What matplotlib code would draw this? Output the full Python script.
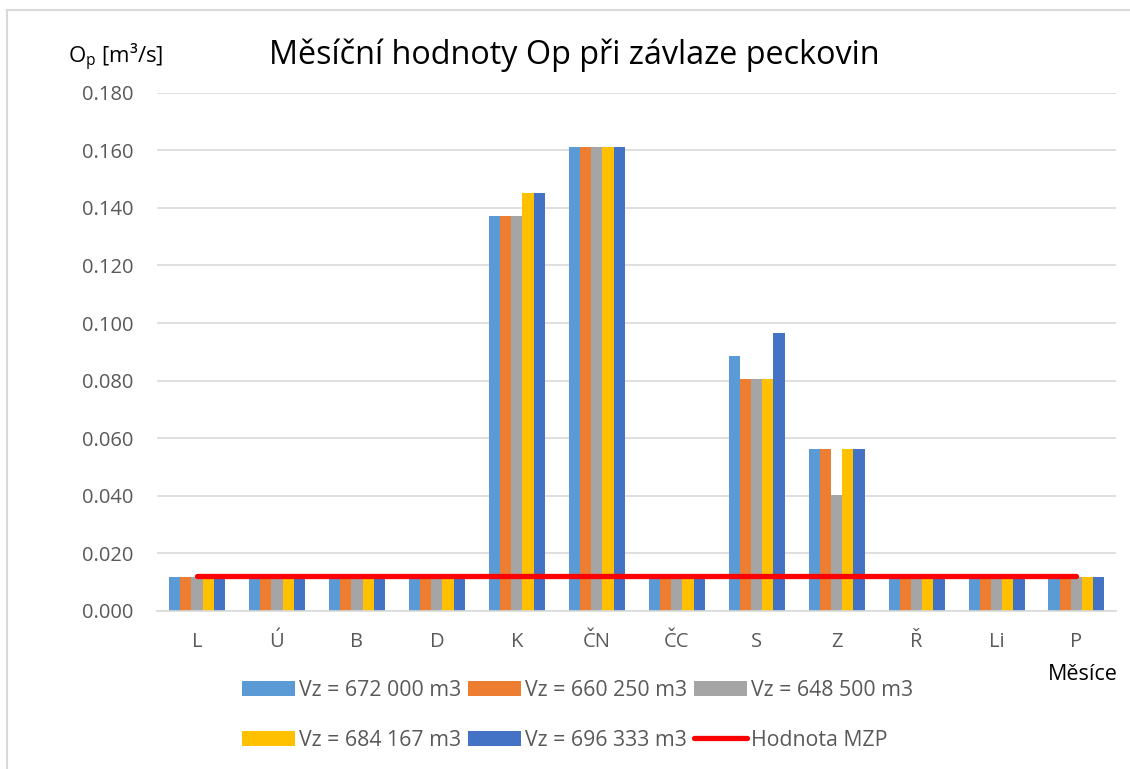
import matplotlib.pyplot as plt
import numpy as np
from matplotlib.lines import Line2D

plt.rcParams['font.family'] = ['Open Sans', 'DejaVu Sans']
plt.rcParams['mathtext.default'] = 'regular'

months = ['L', 'Ú', 'B', 'D', 'K', 'ČN', 'ČC', 'S', 'Z', 'Ř', 'Li', 'P']
series_names = ['Vz = 672 000 m3', 'Vz = 660 250 m3', 'Vz = 648 500 m3',
                'Vz = 684 167 m3', 'Vz = 696 333 m3']
vz_672000 = [0.0118, 0.0118, 0.0118, 0.0118, 0.137, 0.161, 0.0118, 0.0886, 0.0563, 0.0118, 0.0118, 0.0118]
vz_660250 = [0.0118, 0.0118, 0.0118, 0.0118, 0.137, 0.161, 0.0118, 0.0805, 0.0563, 0.0118, 0.0118, 0.0118]
vz_648500 = [0.0118, 0.0118, 0.0118, 0.0118, 0.137, 0.161, 0.0118, 0.0805, 0.0402, 0.0118, 0.0118, 0.0118]
vz_684167 = [0.0118, 0.0118, 0.0118, 0.0118, 0.145, 0.161, 0.0118, 0.0805, 0.0563, 0.0118, 0.0118, 0.0118]
vz_696333 = [0.0118, 0.0118, 0.0118, 0.0118, 0.145, 0.161, 0.0118, 0.0967, 0.0563, 0.0118, 0.0118, 0.0118]
mzp = [0.0121] * 12

colors = ['#5B9BD5', '#ED7D31', '#A5A5A5', '#FFC000', '#4472C4']
grid_col = '#D9D9D9'
text_col = '#595959'

fig = plt.figure(figsize=(11.3, 7.69), dpi=100)
ax = fig.add_axes([0.139, 0.2055, 0.849, 0.674])

x = np.arange(len(months))
w = 0.14
handles = []
for i, (vals, name) in enumerate(zip([vz_672000, vz_660250, vz_648500, vz_684167, vz_696333], series_names)):
    b = ax.bar(x + (i - 2) * w, vals, width=w, color=colors[i], label=name, zorder=2)
    handles.append(b)
ln, = ax.plot(x, mzp, color='#FF0000', lw=3.8, solid_capstyle='round', zorder=3, label='Hodnota MZP')
handles.append(ln)

ax.set_xlim(-0.5, 11.5)
ax.set_ylim(0, 0.18)
ax.set_yticks(np.arange(0, 0.1801, 0.02))
ax.yaxis.set_major_formatter(plt.FormatStrFormatter('%.3f'))
ax.set_xticks(x)
ax.set_xticklabels(months)
ax.grid(axis='y', color=grid_col, lw=1.2, zorder=0)
ax.set_axisbelow(True)
for s in ['top', 'right', 'left']:
    ax.spines[s].set_visible(False)
ax.spines['bottom'].set_color(grid_col)
ax.spines['bottom'].set_linewidth(1.2)
ax.tick_params(axis='both', length=0, labelsize=14.5, colors=text_col)
ax.tick_params(axis='y', pad=17)
ax.tick_params(axis='x', pad=15)

fig.text(0.508, 0.928, 'Měsíční hodnoty Op při závlaze peckovin', ha='center', va='center',
         fontsize=23.3, color='black')
fig.text(0.06, 0.925, 'O$_{p}$ [m³/s]', ha='left', va='center', fontsize=16, color='black')
fig.text(0.989, 0.123, 'Měsíce', ha='right', va='center', fontsize=15.5, color='black')

order = [0, 3, 1, 4, 2, 5]
leg = fig.legend([handles[k] for k in order], [handles[k].get_label() for k in order],
                 ncol=3, loc='center', bbox_to_anchor=(0.511, 0.07), frameon=False,
                 fontsize=15.3, handlelength=2.5, handleheight=0.7, handletextpad=0.2,
                 columnspacing=0.3, labelspacing=1.35)
for t in leg.get_texts():
    t.set_color(text_col)

# chart border
fig.add_artist(Line2D([7 / 1130, 7 / 1130], [0, 1 - 10 / 769], color=grid_col, lw=1.5))
fig.add_artist(Line2D([7 / 1130, 1], [1 - 10 / 769, 1 - 10 / 769], color=grid_col, lw=1.5))

fig.savefig('out.png', dpi=100)
